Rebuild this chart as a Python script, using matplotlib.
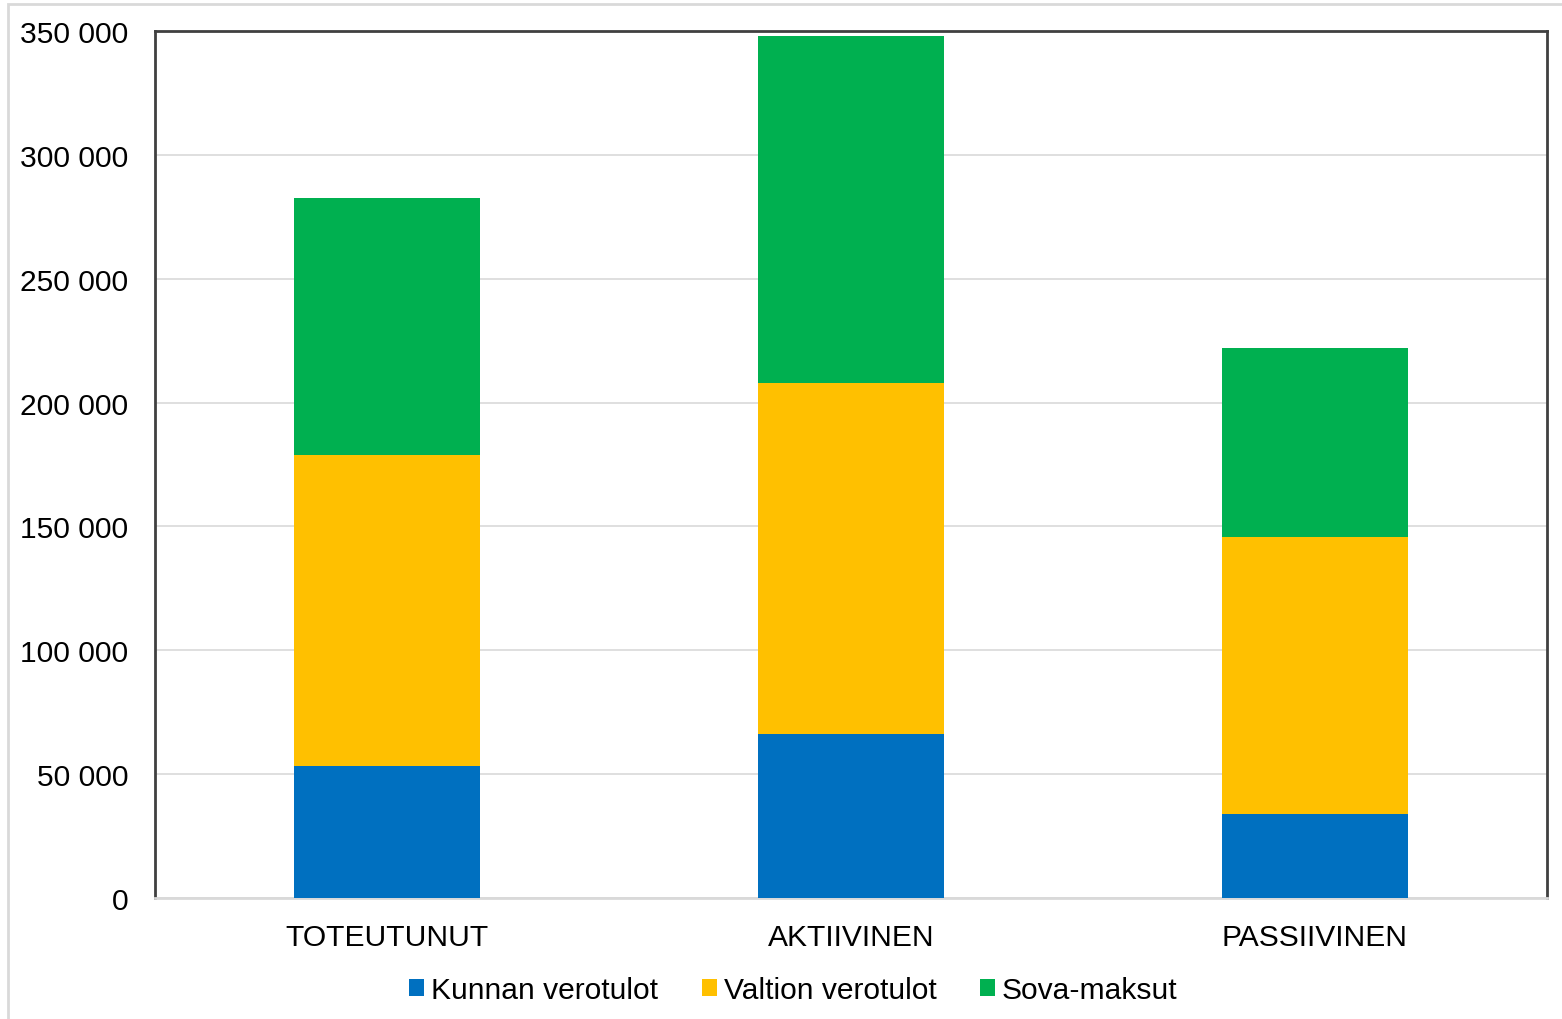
import numpy as np
import matplotlib.pyplot as plt
from matplotlib.patches import Rectangle

# Tiedot
kategoriat = ["TOTEUTUNUT", "AKTIIVINEN", "PASSIIVINEN"]
kunnan = [53300, 66200, 33900]
valtion = [125500, 141700, 111800]
sova = [103800, 140100, 76300]
sarjat = ["Kunnan verotulot", "Valtion verotulot", "Sova-maksut"]
varit = ["#0070C0", "#FFC000", "#00B050"]
y_ticks = [0, 50000, 100000, 150000, 200000, 250000, 300000, 350000]

plt.rcParams['font.family'] = ['Liberation Sans', 'DejaVu Sans']

fig = plt.figure(figsize=(15.62, 10.20), dpi=100)
ax = fig.add_axes([0.0992, 0.1186, 0.8912, 0.85])

x = np.arange(len(kategoriat))
pohja = np.zeros(len(kategoriat))
for arvot, nimi, vari in zip([kunnan, valtion, sova], sarjat, varit):
    ax.bar(x, arvot, 0.4, bottom=pohja, color=vari, label=nimi, zorder=3)
    pohja = pohja + np.array(arvot)

ax.set_xlim(-0.5, 2.5)
ax.set_ylim(0, 350000)
ax.set_yticks(y_ticks)
ax.set_yticklabels([f"{v:,}".replace(",", " ") for v in y_ticks])
ax.set_xticks(x)
ax.set_xticklabels(kategoriat)
ax.tick_params(axis='both', length=0, labelsize=21.6)
ax.tick_params(axis='y', pad=19)
ax.tick_params(axis='x', pad=18)
ax.grid(axis='y', color='#d9d9d9', linewidth=1.2, zorder=0)

for s in ['top', 'left', 'right']:
    ax.spines[s].set_color('#404040')
    ax.spines[s].set_linewidth(2)
ax.spines['bottom'].set_color('#d9d9d9')
ax.spines['bottom'].set_linewidth(2)

fig.legend(*ax.get_legend_handles_labels(), loc='center',
           bbox_to_anchor=(0.508, 0.028), ncol=3, frameon=False,
           fontsize=21.6, handlelength=0.5, handleheight=0.5, handletextpad=0.23,
           columnspacing=1.45, borderaxespad=0, borderpad=0)

# Ulkoreunus
fig.patches.append(Rectangle((0.005, -0.01), 1.0, 1.005, transform=fig.transFigure,
                             fill=False, edgecolor='#d9d9d9', linewidth=2))

fig.savefig("out.png", dpi=100)
